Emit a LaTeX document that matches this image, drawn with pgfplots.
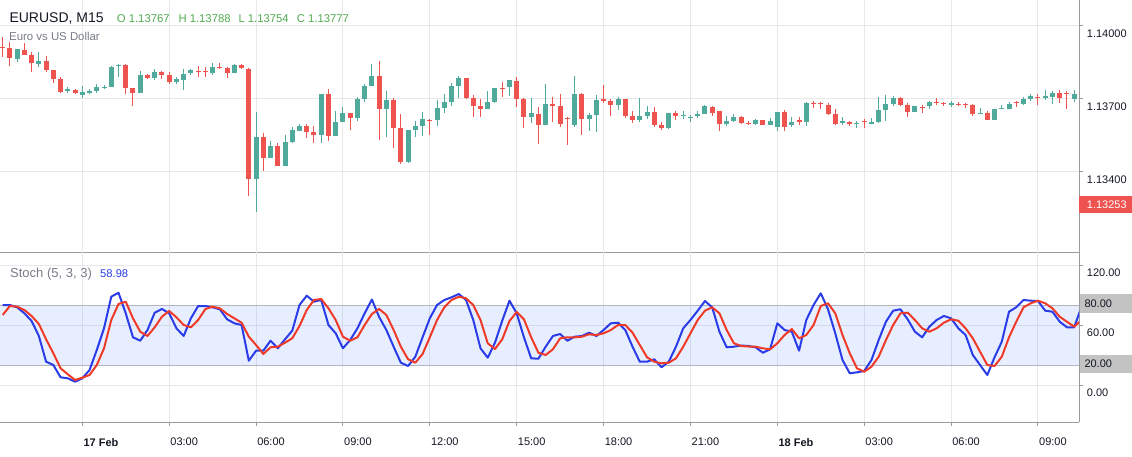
\documentclass[border=0pt]{standalone}
\usepackage{pgfplots}
\pgfplotsset{compat=1.18}
\usepackage{pgfplotstable}
\usepackage{fontspec}
\setmainfont{Liberation Sans}
\definecolor{upc}{RGB}{80,170,155}
\definecolor{dnc}{RGB}{239,83,80}
\definecolor{gridc}{RGB}{232,232,232}
\definecolor{axc}{RGB}{155,155,155}
\definecolor{kc}{RGB}{41,60,232}
\definecolor{dc}{RGB}{240,58,40}
\definecolor{bandb}{RGB}{41,98,255}
\definecolor{bandl}{RGB}{178,181,190}
\definecolor{ohlc}{RGB}{80,170,80}
\definecolor{txtg}{RGB}{120,123,134}
\definecolor{txtk}{RGB}{19,23,34}
\definecolor{boxg}{RGB}{195,195,195}

% up (green) candles: time in hours from 17 Feb 00:00
\pgfplotstableread{
t O H L C
-2.25 1.13865 1.13905 1.13850 1.13905
-1.5 1.13844 1.13894 1.13832 1.13856
-0.5 1.13730 1.13747 1.13725 1.13739
0 1.13716 1.13754 1.13704 1.13726
0.25 1.13725 1.13740 1.13720 1.13733
0.5 1.13733 1.13761 1.13725 1.13747
0.75 1.13744 1.13758 1.13740 1.13749
1.0 1.13748 1.13835 1.13748 1.13829
1.25 1.13836 1.13843 1.13791 1.13839
2.0 1.13725 1.13814 1.13724 1.13798
2.5 1.13785 1.13822 1.13777 1.13809
3.25 1.13770 1.13788 1.13760 1.13780
3.5 1.13777 1.13822 1.13736 1.13802
3.75 1.13805 1.13821 1.13796 1.13818
4.5 1.13807 1.13848 1.13798 1.13829
5.25 1.13805 1.13843 1.13804 1.13839
6.0 1.13368 1.13645 1.13233 1.13543
6.5 1.13455 1.13525 1.13454 1.13505
7.0 1.13423 1.13550 1.13422 1.13522
7.25 1.13522 1.13582 1.13518 1.13571
7.5 1.13568 1.13595 1.13567 1.13587
8.25 1.13551 1.13720 1.13518 1.13719
8.75 1.13547 1.13650 1.13546 1.13604
9.0 1.13604 1.13664 1.13603 1.13640
9.5 1.13621 1.13707 1.13609 1.13699
9.75 1.13699 1.13759 1.13688 1.13752
10.0 1.13752 1.13843 1.13751 1.13794
10.5 1.13657 1.13732 1.13543 1.13696
11.25 1.13437 1.13572 1.13433 1.13571
11.5 1.13571 1.13609 1.13543 1.13587
11.75 1.13587 1.13645 1.13546 1.13617
12.25 1.13612 1.13696 1.13587 1.13661
12.5 1.13661 1.13719 1.13642 1.13686
12.75 1.13686 1.13763 1.13670 1.13752
13.0 1.13752 1.13794 1.13703 1.13785
14.0 1.13657 1.13732 1.13656 1.13686
14.25 1.13686 1.13745 1.13681 1.13744
14.75 1.13749 1.13778 1.13711 1.13777
15.5 1.13623 1.13702 1.13601 1.13640
16.0 1.13593 1.13761 1.13592 1.13678
17.0 1.13591 1.13794 1.13584 1.13718
17.5 1.13616 1.13642 1.13567 1.13631
17.75 1.13633 1.13715 1.13564 1.13695
18.5 1.13674 1.13707 1.13653 1.13699
19.25 1.13612 1.13703 1.13604 1.13628
19.5 1.13628 1.13670 1.13616 1.13645
20.25 1.13579 1.13642 1.13575 1.13641
20.75 1.13628 1.13649 1.13616 1.13633
21.0 1.13620 1.13633 1.13603 1.13624
21.25 1.13628 1.13649 1.13620 1.13637
21.5 1.13637 1.13674 1.13636 1.13670
22.25 1.13595 1.13628 1.13587 1.13608
22.5 1.13608 1.13637 1.13603 1.13624
23.25 1.13595 1.13616 1.13591 1.13611
23.75 1.13591 1.13620 1.13590 1.13608
24.0 1.13583 1.13646 1.13567 1.13645
24.5 1.13591 1.13624 1.13583 1.13604
25.0 1.13604 1.13686 1.13587 1.13682
26.25 1.13600 1.13624 1.13591 1.13608
26.75 1.13598 1.13608 1.13580 1.13601
27.25 1.13595 1.13620 1.13594 1.13604
27.5 1.13604 1.13707 1.13600 1.13653
27.75 1.13653 1.13715 1.13608 1.13678
28.0 1.13678 1.13711 1.13670 1.13703
28.75 1.13645 1.13671 1.13644 1.13670
29.25 1.13670 1.13692 1.13657 1.13686
30.0 1.13675 1.13690 1.13667 1.13682
31.0 1.13638 1.13661 1.13637 1.13641
31.5 1.13612 1.13658 1.13611 1.13657
31.75 1.13657 1.13674 1.13656 1.13661
32.0 1.13657 1.13686 1.13656 1.13678
32.5 1.13678 1.13707 1.13674 1.13699
32.75 1.13699 1.13719 1.13690 1.13711
33.25 1.13703 1.13736 1.13695 1.13711
33.5 1.13707 1.13732 1.13678 1.13723
34.25 1.13699 1.13736 1.13686 1.13719
}\upc

% down (red) candles
\pgfplotstableread{
t O H L C
-2.75 1.13915 1.13956 1.13873 1.13913
-2.5 1.13908 1.13933 1.13836 1.13867
-2.0 1.13901 1.13929 1.13880 1.13880
-1.75 1.13880 1.13891 1.13811 1.13846
-1.25 1.13856 1.13876 1.13809 1.13818
-1.0 1.13818 1.13819 1.13766 1.13781
-0.75 1.13781 1.13788 1.13725 1.13729
-0.25 1.13736 1.13740 1.13719 1.13725
1.5 1.13839 1.13843 1.13719 1.13745
1.75 1.13743 1.13744 1.13670 1.13725
2.25 1.13796 1.13802 1.13781 1.13785
2.75 1.13811 1.13814 1.13781 1.13798
3.0 1.13798 1.13809 1.13759 1.13770
4.0 1.13815 1.13835 1.13791 1.13810
4.25 1.13813 1.13832 1.13791 1.13809
4.75 1.13829 1.13848 1.13821 1.13827
5.0 1.13827 1.13829 1.13787 1.13807
5.5 1.13838 1.13843 1.13822 1.13825
5.75 1.13824 1.13825 1.13298 1.13368
6.25 1.13543 1.13557 1.13401 1.13456
6.75 1.13505 1.13518 1.13422 1.13423
7.75 1.13587 1.13595 1.13536 1.13564
8.0 1.13562 1.13587 1.13516 1.13551
8.5 1.13719 1.13740 1.13527 1.13547
9.25 1.13640 1.13641 1.13571 1.13621
10.25 1.13794 1.13856 1.13529 1.13657
10.75 1.13696 1.13702 1.13498 1.13580
11.0 1.13580 1.13637 1.13430 1.13437
12.0 1.13612 1.13617 1.13550 1.13608
13.25 1.13785 1.13786 1.13697 1.13703
13.5 1.13703 1.13714 1.13624 1.13670
13.75 1.13670 1.13699 1.13624 1.13657
14.5 1.13744 1.13769 1.13708 1.13740
15.0 1.13773 1.13789 1.13667 1.13697
15.25 1.13697 1.13702 1.13580 1.13623
15.75 1.13637 1.13667 1.13514 1.13593
16.25 1.13678 1.13706 1.13605 1.13670
16.5 1.13670 1.13719 1.13584 1.13595
16.75 1.13622 1.13623 1.13509 1.13618
17.25 1.13718 1.13722 1.13550 1.13616
18.0 1.13697 1.13756 1.13683 1.13690
18.25 1.13690 1.13699 1.13628 1.13674
18.75 1.13699 1.13700 1.13620 1.13628
19.0 1.13628 1.13649 1.13600 1.13612
19.75 1.13645 1.13666 1.13583 1.13591
20.0 1.13591 1.13603 1.13571 1.13579
20.5 1.13641 1.13649 1.13612 1.13628
21.75 1.13666 1.13670 1.13628 1.13641
22.0 1.13649 1.13650 1.13567 1.13595
22.75 1.13624 1.13628 1.13595 1.13600
23.0 1.13601 1.13608 1.13591 1.13595
23.5 1.13611 1.13612 1.13590 1.13591
24.25 1.13645 1.13653 1.13567 1.13583
24.75 1.13612 1.13624 1.13591 1.13604
25.25 1.13682 1.13690 1.13661 1.13679
25.5 1.13681 1.13688 1.13657 1.13678
25.75 1.13674 1.13683 1.13633 1.13637
26.0 1.13637 1.13657 1.13591 1.13595
26.5 1.13604 1.13608 1.13587 1.13595
27.0 1.13608 1.13616 1.13580 1.13604
28.25 1.13703 1.13706 1.13670 1.13674
28.5 1.13674 1.13682 1.13624 1.13645
29.0 1.13666 1.13674 1.13641 1.13661
29.5 1.13686 1.13703 1.13674 1.13681
29.75 1.13682 1.13686 1.13670 1.13678
30.25 1.13678 1.13686 1.13670 1.13674
30.5 1.13676 1.13682 1.13661 1.13672
30.75 1.13674 1.13678 1.13628 1.13637
31.25 1.13641 1.13649 1.13611 1.13612
32.25 1.13686 1.13690 1.13666 1.13682
33.0 1.13707 1.13719 1.13674 1.13704
33.75 1.13723 1.13736 1.13682 1.13703
34.0 1.13723 1.13732 1.13657 1.13719
}\dnc

% stochastic %K and %D
\pgfplotstableread{
t K D
-2.75 80 70
-2.5 80 79
-2.25 77.7 78.3
-2.0 71.7 75
-1.75 64 69
-1.5 49 61
-1.25 23.3 45.7
-1.0 20 31.7
-0.75 7.7 16.7
-0.5 6.7 10.7
-0.25 3.3 5
0 6.7 7.3
0.25 15 10
0.5 35 20
0.75 56.7 36.7
1.0 88.3 65
1.25 92.3 81
1.5 71.7 83.3
1.75 47.7 66.7
2.0 44.3 53.3
2.25 55 49
2.5 72.3 57.7
2.75 76 68.3
3.0 71.7 74
3.25 56.7 67.7
3.5 49 60
3.75 66.7 57.7
4.0 79 65
4.25 79 76
4.5 77.7 78.3
4.75 75.7 76.7
5.0 65.7 71
5.25 61.7 66.7
5.5 60 62.3
5.75 24.3 48.3
6.0 34.3 40
6.25 34.3 31
6.5 44.3 37.7
6.75 36.7 38.3
7.0 45.7 42.3
7.25 54.3 46.7
7.5 80 59
7.75 89.3 75
8.0 83.3 85
8.25 85 86
8.5 60 76.7
8.75 51.7 65
9.0 36.7 48.3
9.25 45 44.3
9.5 56.7 47.7
9.75 71.7 60
10.0 85.5 71
10.25 68 76
10.5 55 70
10.75 38.3 55
11.0 22.3 38.3
11.25 19 25.7
11.5 28.3 22.3
11.75 47.7 31
12.0 66.7 47.7
12.25 80 65
12.5 85 77.7
12.75 87.7 85
13.0 91 88.3
13.25 85 86.7
13.5 65 80
13.75 36.7 65
14.0 27.3 41.7
14.25 42.3 36
14.5 64.3 45.7
14.75 84.3 64
15.0 71.7 73
15.25 47.7 65.7
15.5 26.7 47.7
15.75 26.3 32.3
16.0 38.3 30
16.25 49 35.7
16.5 51 46.7
16.75 44.3 47.7
17.0 48.3 47.7
17.25 49 48.3
17.5 52.3 50.7
17.75 49 50
18.0 55 51.7
18.25 61.7 55
18.5 62.3 60
18.75 55 60
19.0 38.3 52.3
19.25 23.3 40
19.5 23.3 27.7
19.75 25.7 23.3
20.0 17.7 21.7
20.25 23.3 22.3
20.5 38.3 26.7
20.75 56.7 38.3
21.0 65 51.7
21.25 74.3 65
21.5 84 74.3
21.75 77.7 77.7
22.0 53.3 71.7
22.25 37.7 55
22.5 38.3 41.7
22.75 39.5 39
23.0 39 38.5
23.25 37.7 38.3
23.5 32.3 36.7
23.75 35.7 35.7
24.0 61.7 41.7
24.25 55 50
24.5 53.3 56
24.75 34.3 46.7
25.0 65 50
25.25 80 60
25.5 91.7 79
25.75 75.7 81.7
26.0 51.7 71.7
26.25 25 50
26.5 11.7 31.7
26.75 12.7 16.7
27.0 14 13.3
27.25 25 18.3
27.5 45 28.3
27.75 63.3 45
28.0 74.3 60
28.25 75.7 71.7
28.5 65.7 72.3
28.75 53.3 65
29.0 47.7 56.7
29.25 58.3 53.3
29.5 65 56.7
29.75 69 62.3
30.0 66.7 65.7
30.25 56.7 64.3
30.5 50 56.7
30.75 30 46.7
31.0 20 33.3
31.25 10 20
31.5 27.7 19
31.75 43.3 28.3
32.0 73.3 47.7
32.25 77.7 63.3
32.5 85 77.7
32.75 84.3 81.7
33.0 84 84.3
33.25 74.3 81.7
33.5 73.3 76.7
33.75 63.3 68.3
34.0 57.7 63.3
34.25 57.7 58.3
34.5 78 65
}\stoch

\pgfplotsset{
  tlab/.style={font=\fontsize{11}{13}\selectfont, text=txtk},
  common/.style={
    scale only axis, width=1079pt,
    xmin=-2.842, xmax=34.417,
    axis x line*=bottom, axis y line*=right,
    axis line style={draw=axc, line width=1pt},
    xtick={0,3,...,33},
    xmajorgrids, ymajorgrids,
    grid style={draw=gridc, line width=1pt},
    tick align=outside, major tick length=4pt,
    tick style={draw=axc, line width=1pt},
    yticklabel style={tlab, anchor=west, inner sep=0pt, xshift=3.7pt, yshift=-8pt},
    /pgf/number format/assume math mode=true,
  },
}

\begin{document}
\begin{tikzpicture}
\useasboundingbox (0,0) rectangle (1132pt,456pt);

% ---------- price panel ----------
\begin{axis}[common,
  at={(0pt,204pt)}, anchor=south west, height=252pt,
  ymin=1.13067, ymax=1.14107,
  xticklabels={}, major x tick style={draw=none},
  ytick={1.134,1.137,1.140}, yticklabels={1.13400,1.13700,1.14000},
]
% wicks
\addplot[draw=none, mark=none, error bars/.cd, y dir=both, y explicit, error mark=none,
  error bar style={draw=upc, line width=1pt}]
  table[x=t, y=H, y error plus expr=0, y error minus expr=\thisrow{H}-\thisrow{L}] {\upc};
\addplot[draw=none, mark=none, error bars/.cd, y dir=both, y explicit, error mark=none,
  error bar style={draw=dnc, line width=1pt}]
  table[x=t, y=H, y error plus expr=0, y error minus expr=\thisrow{H}-\thisrow{L}] {\dnc};
% bodies
\addplot[draw=none, mark=none, error bars/.cd, y dir=both, y explicit, error mark=none,
  error bar style={draw=upc, line width=5pt}]
  table[x=t, y=C, y error plus expr=0, y error minus expr=\thisrow{C}-\thisrow{O}] {\upc};
\addplot[draw=none, mark=none, error bars/.cd, y dir=both, y explicit, error mark=none,
  error bar style={draw=dnc, line width=5pt}]
  table[x=t, y=O, y error plus expr=0, y error minus expr=\thisrow{O}-\thisrow{C}] {\dnc};
\end{axis}

% ---------- stochastic panel ----------
\begin{axis}[common,
  at={(0pt,34pt)}, anchor=south west, height=170pt,
  ymin=-37, ymax=133,
  xticklabels={\textbf{17 Feb},03:00,06:00,09:00,12:00,15:00,18:00,21:00,\textbf{18 Feb},03:00,06:00,09:00},
  xticklabel style={tlab, anchor=north west, inner sep=0pt, xshift=1pt, yshift=-12pt},
  ytick={0,60,120}, yticklabels={0.00,60.00,120.00},
]
\addplot[draw=none, fill=bandb, fill opacity=0.11] coordinates {(-2.842,20) (34.417,20) (34.417,80) (-2.842,80)} -- cycle;
\addplot[bandl, line width=1pt] coordinates {(-2.842,80) (34.417,80)};
\addplot[bandl, line width=1pt] coordinates {(-2.842,20) (34.417,20)};
\addplot[kc, line width=2pt, line join=round, mark=none] table[x=t, y=K] {\stoch};
\addplot[dc, line width=2pt, line join=round, mark=none] table[x=t, y=D] {\stoch};
\end{axis}

% ---------- titles and price labels ----------
\node[anchor=base west, inner sep=0pt, font=\fontsize{14}{16}\selectfont, text=txtk] at (9.3pt,433.3pt) {EURUSD, M15};
\node[anchor=base west, inner sep=0pt, font=\fontsize{11.3}{13}\selectfont, text=ohlc] at (116.7pt,433.3pt) {O 1.13767};
\node[anchor=base west, inner sep=0pt, font=\fontsize{11.3}{13}\selectfont, text=ohlc] at (178.3pt,433.3pt) {H 1.13788};
\node[anchor=base west, inner sep=0pt, font=\fontsize{11.3}{13}\selectfont, text=ohlc] at (238.3pt,433.3pt) {L 1.13754};
\node[anchor=base west, inner sep=0pt, font=\fontsize{11.3}{13}\selectfont, text=ohlc] at (296.7pt,433.3pt) {C 1.13777};
\node[anchor=base west, inner sep=0pt, font=\fontsize{11.4}{13}\selectfont, text=txtg] at (9pt,415.3pt) {Euro vs US Dollar};
\node[anchor=base west, inner sep=0pt, font=\fontsize{13}{15}\selectfont, text=txtg] at (10pt,178.3pt) {Stoch (5, 3, 3)};
\node[anchor=base west, inner sep=0pt, font=\fontsize{11.2}{14}\selectfont, text=kc] at (100pt,178.3pt) {58.98};

\fill[dnc] (1079pt,243pt) rectangle (1132pt,260pt);
\node[anchor=west, inner sep=0pt, font=\fontsize{11}{13}\selectfont, text=white] at (1086.7pt,251.5pt) {1.13253};
\fill[boxg] (1080pt,143pt) rectangle (1132pt,162pt);
\node[anchor=west, inner sep=0pt, font=\fontsize{11}{13}\selectfont, text=txtk] at (1084.3pt,152.5pt) {80.00};
\fill[boxg] (1080pt,83pt) rectangle (1132pt,101pt);
\node[anchor=west, inner sep=0pt, font=\fontsize{11}{13}\selectfont, text=txtk] at (1084.3pt,92pt) {20.00};
\end{tikzpicture}
\end{document}
